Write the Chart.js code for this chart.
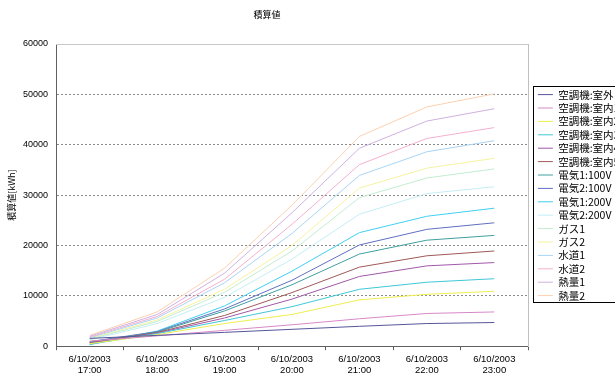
<!DOCTYPE html>
<html>
<head>
<meta charset="utf-8">
<script src="https://cdn.jsdelivr.net/npm/chart.js@4/dist/chart.umd.min.js"></script>
<style>
html,body{margin:0;padding:0;overflow:hidden;background:#fff;}
#wrap{width:615px;height:382px;}
</style>
</head>
<body>
<div id="wrap"><canvas id="c" width="615" height="382"></canvas></div>
<script>
const chartTitle = '積算値';
const yAxisTitle = '積算値[kWh]';
const categories = [
  ['6/10/2003','17:00'],['6/10/2003','18:00'],['6/10/2003','19:00'],['6/10/2003','20:00'],
  ['6/10/2003','21:00'],['6/10/2003','22:00'],['6/10/2003','23:00']
];
const yTicks = [0, 10000, 20000, 30000, 40000, 50000, 60000];

const seriesNames = ['空調機:室外','空調機:室内1','空調機:室内2','空調機:室内3','空調機:室内4','空調機:室内5',
  '電気1:100V','電気2:100V','電気1:200V','電気2:200V','ガス1','ガス2','水道1','水道2','熱量1','熱量2'];

const ac_out   = [1550, 2150, 2750, 3350, 3950, 4500, 4700];
const ac_in1   = [1000, 2050, 3150, 4250, 5450, 6500, 6800];
const ac_in2   = [500, 2300, 4500, 6300, 9200, 10300, 10900];
const ac_in3   = [400, 2500, 5100, 7850, 11300, 12700, 13400];
const ac_in4   = [600, 2600, 5600, 9350, 13850, 15950, 16600];
const ac_in5   = [700, 2700, 6100, 10650, 15700, 17950, 18900];
const elec1_100 = [800, 2800, 7000, 12200, 18300, 21050, 22000];
const elec2_100 = [900, 2900, 7400, 13100, 20100, 23200, 24500];
const elec1_200 = [300, 3000, 8000, 14900, 22550, 25800, 27400];
const elec2_200 = [1250, 4500, 9700, 17300, 26200, 30300, 31650];
const gas1     = [1400, 4900, 10700, 18900, 29500, 33400, 35200];
const gas2     = [1500, 5200, 11300, 20000, 31400, 35350, 37300];
const water1   = [1650, 5600, 12600, 22400, 33900, 38600, 40800];
const water2   = [1800, 5900, 13300, 24200, 36050, 41250, 43400];
const heat1    = [1950, 6300, 14500, 26500, 39300, 44700, 47150];
const heat2    = [2150, 6800, 15500, 28000, 41650, 47500, 50100];

const seriesValues = [ac_out, ac_in1, ac_in2, ac_in3, ac_in4, ac_in5, elec1_100, elec2_100,
  elec1_200, elec2_200, gas1, gas2, water1, water2, heat1, heat2];
const seriesColors = ['#55559a','#d888c8','#eeee50','#40c8d8','#a058a8','#a05858','#40a0a0','#6070c0',
  '#40d0f0','#c4eef4','#c4ecd0','#f6f2a0','#a8d4f4','#f4b0d0','#d0b0e0','#fcd0b0'];

const datasets = seriesNames.map((n, i) => ({
  label: n,
  data: seriesValues[i],
  borderColor: seriesColors[i],
  backgroundColor: seriesColors[i],
  borderWidth: 1,
  pointRadius: 0,
  tension: 0,
  fill: false
}));

const FONT = '"Liberation Sans", "Noto Sans CJK JP", sans-serif';
const JFONT = '"Noto Sans CJK JP", "Liberation Sans", sans-serif';

const titlePlugin = {
  id: 'xlTitle',
  afterDraw(chart) {
    const ctx = chart.ctx;
    const ca = chart.chartArea;
    ctx.save();
    ctx.strokeStyle = '#c8c8c8';
    ctx.lineWidth = 1;
    ctx.beginPath();
    const ty = Math.round(ca.top) + 0.5;
    ctx.moveTo(ca.left, ty);
    ctx.lineTo(ca.right, ty);
    ctx.stroke();
    ctx.font = '9px ' + JFONT;
    ctx.fillStyle = '#000';
    ctx.textAlign = 'center';
    ctx.textBaseline = 'middle';
    ctx.fillText(chartTitle, 267, 15);
    ctx.restore();
  }
};
const legendBoxPlugin = {
  id: 'legendBox',
  afterDraw(chart) {
    const lg = chart.legend;
    if (!lg || !lg.legendHitBoxes || !lg.legendHitBoxes.length) return;
    const hb = lg.legendHitBoxes;
    const top = Math.round(hb[0].top) - 2.5;
    const bottom = Math.round(hb[hb.length - 1].top + hb[hb.length - 1].height) + 1.5;
    const left = 533.5;
    const ctx = chart.ctx;
    ctx.save();
    ctx.strokeStyle = '#000';
    ctx.lineWidth = 1;
    ctx.strokeRect(left, top, 700 - left, bottom - top);
    ctx.restore();
  }
};

new Chart(document.getElementById('c'), {
  type: 'line',
  data: { labels: categories, datasets },
  plugins: [titlePlugin, legendBoxPlugin],
  options: {
    responsive: false,
    animation: false,
    layout: { padding: { top: 44, left: 2, right: 0, bottom: 3 } },
    plugins: {
      title: { display: false },
      tooltip: { enabled: false },
      legend: {
        position: 'right',
        fullSize: false,
        maxWidth: 80,
        labels: {
          usePointStyle: true,
          pointStyle: 'line',
          pointStyleWidth: 15,
          boxWidth: 15,
          padding: 2.9,
          color: '#000',
          font: { size: 10.5, family: JFONT }
        }
      }
    },
    scales: {
      x: {
        type: 'category',
        offset: true,
        grid: { display: true, offset: true, drawOnChartArea: false, drawTicks: true, tickLength: 4, tickColor: '#606060' },
        border: { display: true, color: '#606060', width: 1 },
        ticks: { color: '#000', padding: 3, maxRotation: 0, autoSkip: false, font: { size: 9.5, family: FONT, lineHeight: 1.2 } }
      },
      y: {
        min: 0, max: 60000,
        afterBuildTicks: (s) => { s.ticks = yTicks.map(v => ({ value: v })); },
        afterFit: (s) => { s.width = 54; },
        grid: {
          drawTicks: false,
          color: (c) => (c.tick && (c.tick.value === 0 || c.tick.value === 60000)) ? 'rgba(0,0,0,0)' : '#8c8c8c',
          lineWidth: 1
        },
        border: { display: true, color: '#606060', width: 1, dash: [2, 2] },
        ticks: { color: '#000', padding: 8, font: { size: 9, family: FONT }, callback: (v) => String(v) },
        title: { display: true, text: yAxisTitle, color: '#000', padding: { top: 4, bottom: 6 }, font: { size: 9, family: JFONT } }
      },
      y2: {
        type: 'linear',
        position: 'right',
        display: true,
        grid: { display: false, drawOnChartArea: false, drawTicks: false },
        border: { display: true, color: '#c0c0c0', width: 1 },
        ticks: { display: false },
        afterFit: (s) => { s.width = 7; }
      }
    }
  }
});
</script>
</body>
</html>
